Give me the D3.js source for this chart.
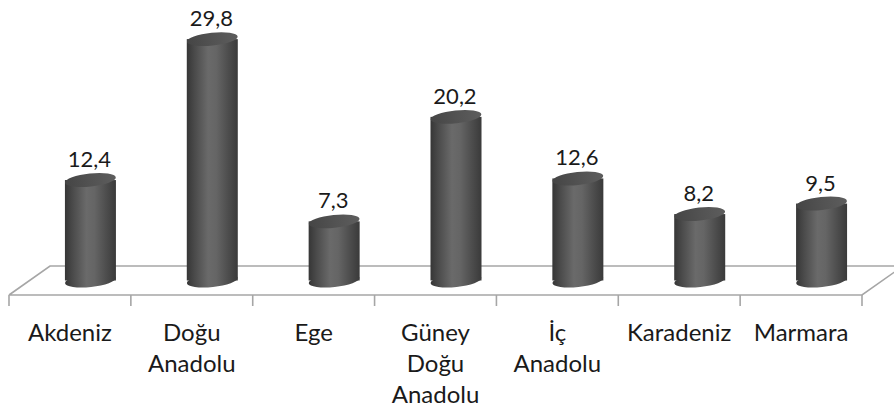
<!DOCTYPE html>
<html><head><meta charset="utf-8">
<script src="https://cdn.jsdelivr.net/npm/d3@7/dist/d3.min.js"></script>
<style>html,body{margin:0;padding:0;background:#fff;}svg{display:block;}</style>
</head><body>
<svg id="chart" width="894" height="414"></svg>
<script>
const categories = ["Akdeniz","Doğu Anadolu","Ege","Güney Doğu Anadolu","İç Anadolu","Karadeniz","Marmara"];
const values = [12.4, 29.8, 7.3, 20.2, 12.6, 8.2, 9.5];
const valueLabels = ["12,4","29,8","7,3","20,2","12,6","8,2","9,5"];

const svg = d3.select("#chart");
const frontY = 295, depthX = 41, depthY = -29;
const x = d3.scaleBand().domain(categories).range([9, 862]).padding(0);
const baseY = frontY + depthY / 2;           // cylinder base (mid-depth)
const y = d3.scaleLinear().domain([0, 30]).range([baseY, baseY - 243]);
const rx = 25.5, ry = 6.5, tilt = -6;
const font = "Lato, 'Open Sans', sans-serif";

const defs = svg.append("defs");
const g1 = defs.append("linearGradient").attr("id","body").attr("x1",0).attr("x2",1).attr("y1",0).attr("y2",0);
[[0,"#363636"],[0.15,"#4a4a4a"],[0.42,"#6a6a6a"],[0.58,"#656565"],[0.82,"#4c4c4c"],[1,"#3a3a3a"]]
  .forEach(([o,c]) => g1.append("stop").attr("offset",o).attr("stop-color",c));
const g2 = defs.append("linearGradient").attr("id","top").attr("x1",0).attr("x2",1).attr("y1",0).attr("y2",0);
[[0,"#454545"],[0.5,"#525252"],[1,"#5d5d5d"]]
  .forEach(([o,c]) => g2.append("stop").attr("offset",o).attr("stop-color",c));

// floor
const x0 = x.range()[0], x1 = x.range()[1];
const floorPts = [[x0, frontY],[x0+depthX, frontY+depthY],[x1+depthX, frontY+depthY],[x1, frontY],[x0, frontY]];
svg.append("path").attr("d", d3.line()(floorPts)).attr("fill","none")
  .attr("stroke","#a6a6a6").attr("stroke-width",1.6);
// ticks
const tickXs = categories.map(c => x(c)).concat([x1]);
svg.selectAll("line.tick").data(tickXs).join("line").attr("class","tick")
  .attr("x1",d=>d).attr("x2",d=>d).attr("y1",frontY).attr("y2",frontY+11)
  .attr("stroke","#a6a6a6").attr("stroke-width",1.6);

// cylinders
const cyl = svg.selectAll("g.cyl").data(categories.map((c,i)=>({c, v: values[i], l: valueLabels[i]})))
  .join("g").attr("class","cyl");
cyl.each(function(d){
  const g = d3.select(this);
  const cx = x(d.c) + x.bandwidth()/2 + depthX/2;
  const ty = y(d.v);
  g.append("ellipse").attr("cx",cx).attr("cy",baseY).attr("rx",rx).attr("ry",ry)
    .attr("transform",`rotate(${tilt},${cx},${baseY})`).attr("fill","url(#body)");
  g.append("rect").attr("x",cx-rx).attr("y",ty).attr("width",rx*2).attr("height",baseY-ty)
    .attr("fill","url(#body)");
  g.append("ellipse").attr("cx",cx).attr("cy",ty).attr("rx",rx).attr("ry",ry)
    .attr("transform",`rotate(${tilt},${cx},${ty})`).attr("fill","url(#top)");
  g.append("text").attr("x",cx-1).attr("y",ty-13).attr("text-anchor","middle")
    .attr("font-family",font).attr("font-size",22).attr("fill","#1a1a1a").text(d.l);
});

// category labels
const lab = svg.selectAll("text.cat").data(categories).join("text").attr("class","cat")
  .attr("text-anchor","middle").attr("font-family",font).attr("font-size",24).attr("fill","#1a1a1a");
lab.each(function(c){
  const t = d3.select(this);
  const cx = x(c) + x.bandwidth()/2;
  c.split(" ").forEach((w,i) => t.append("tspan").attr("x",cx).attr("y",341 + i*31).text(w));
});
</script>
</body></html>
